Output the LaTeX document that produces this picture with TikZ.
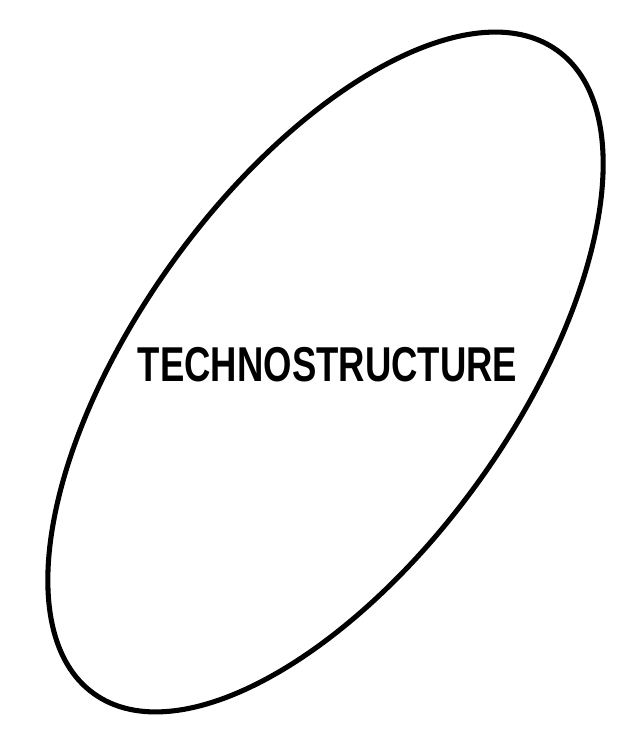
\documentclass[tikz,border=0pt]{standalone}
\usepackage{fontspec}
\setmainfont{Liberation Sans}
\begin{document}
\begin{tikzpicture}[x=0.75pt,y=0.75pt]
     \useasboundingbox (0,0) rectangle (622,750);
     \draw[line width=3.8pt,rotate around={54.2:(325.5,378)}] (325.5,378) ellipse [x radius=396.4, y radius=188.3];
     \node[anchor=base,inner sep=0pt,xscale=0.746] (label) at (327.5,368){\fontsize{36.7pt}{40pt}\selectfont\bfseries TECHNOSTRUCTURE};
\end{tikzpicture}
\end{document}
